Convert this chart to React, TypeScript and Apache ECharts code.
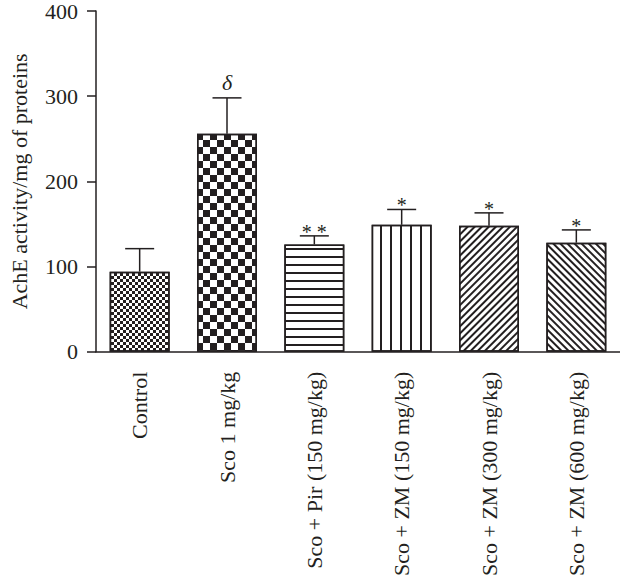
import React, { useEffect, useRef } from "react";
import * as echarts from "echarts";

const categories = [
  "Control",
  "Sco 1 mg/kg",
  "Sco + Pir (150 mg/kg)",
  "Sco + ZM (150 mg/kg)",
  "Sco + ZM (300 mg/kg)",
  "Sco + ZM (600 mg/kg)",
];
const means = [94, 256, 126, 149, 148, 128];
const errorTops = [121, 298, 136, 167, 163, 143];
const marks = ["", "δ", "* *", "*", "*", "*"];
const yTicks = { min: 0, max: 400, interval: 100 };

const INK = "#231f20";
const FONT = "Liberation Serif";

const decals: any[] = [
  { symbol: "rect", symbolSize: 1, color: INK, dashArrayX: [[3, 3], [0, 3, 3, 0]], dashArrayY: [3, 0] },
  { symbol: "rect", symbolSize: 1, color: INK, dashArrayX: [[6.3, 6.3], [0, 6.3, 6.3, 0]], dashArrayY: [6.3, 0] },
  { symbol: "rect", symbolSize: 1, color: INK, dashArrayX: [1, 0], dashArrayY: [1.4, 5.1] },
  { symbol: "rect", symbolSize: 1, color: INK, dashArrayX: [1.4, 7.1], dashArrayY: [1, 0] },
  { symbol: "rect", symbolSize: 1, color: INK, dashArrayX: [1, 0], dashArrayY: [1.4, 2.1], rotation: -Math.PI / 4 },
  { symbol: "rect", symbolSize: 1, color: INK, dashArrayX: [1, 0], dashArrayY: [1.4, 2.3], rotation: Math.PI / 4 },
];

export default function App() {
  const ref = useRef<HTMLDivElement>(null);
  useEffect(() => {
    if (!ref.current) return;
    const chart = echarts.init(ref.current, null, { renderer: "svg" });
    const barData = means.map((v, i) => ({
      value: v,
      itemStyle: { color: "#fff", borderColor: INK, borderWidth: 1.5, decal: decals[i] },
    }));
    const errData = means.map((v, i) => [i, v, errorTops[i]]);
    chart.setOption({
      animation: false,
      textStyle: { fontFamily: FONT },
      grid: { left: 86, right: 0, top: 10, bottom: 221, containLabel: false },
      xAxis: {
        type: "category",
        data: categories,
        axisLine: { lineStyle: { color: INK, width: 1.5 } },
        axisTick: { alignWithLabel: true, length: 8, lineStyle: { color: INK, width: 1.5 } },
        axisLabel: {
          rotate: 90,
          margin: 20,
          color: INK,
          fontSize: 22,
          fontFamily: FONT,
          interval: 0,
        },
      },
      yAxis: {
        type: "value",
        min: yTicks.min,
        max: yTicks.max,
        interval: yTicks.interval,
        name: "AchE activity/mg of proteins",
        nameLocation: "middle",
        nameGap: 66,
        nameTextStyle: { color: INK, fontSize: 22, fontFamily: FONT },
        splitLine: { show: false },
        axisLine: { show: true, lineStyle: { color: INK, width: 1.5 } },
        axisTick: { show: true, length: 9, lineStyle: { color: INK, width: 1.5 } },
        axisLabel: { margin: 18, color: INK, fontSize: 22, fontFamily: FONT },
      },
      series: [
        {
          type: "bar",
          data: barData,
          barWidth: 60,
        },
        {
          type: "custom",
          data: errData,
          encode: { x: 0, y: 2 },
          z: 5,
          renderItem: (params: any, api: any) => {
            const i = api.value(0);
            const base = api.coord([i, api.value(1)]);
            const top = api.coord([i, api.value(2)]);
            const half = 14.5;
            const mark = marks[params.dataIndex];
            const children: any[] = [
              {
                type: "line",
                shape: { x1: base[0], y1: base[1], x2: top[0], y2: top[1] },
                style: { stroke: INK, lineWidth: 1.5 },
              },
              {
                type: "line",
                shape: { x1: top[0] - half, y1: top[1], x2: top[0] + half, y2: top[1] },
                style: { stroke: INK, lineWidth: 1.5 },
              },
            ];
            if (mark) {
              const isDelta = mark === "δ";
              children.push({
                type: "text",
                style: {
                  text: mark,
                  x: top[0],
                  y: isDelta ? top[1] - 4 : top[1] + 6,
                  align: "center",
                  verticalAlign: "bottom",
                  fontSize: isDelta ? 22 : 20,
                  fontStyle: isDelta ? "italic" : "normal",
                  fontFamily: FONT,
                  fill: INK,
                },
              });
            }
            return { type: "group", children };
          },
        },
      ],
    });
    return () => chart.dispose();
  }, []);
  return (
    <div
      ref={ref}
      style={{ position: "fixed", left: 0, top: 0, width: 620, height: 579, background: "#fff" }}
    />
  );
}
